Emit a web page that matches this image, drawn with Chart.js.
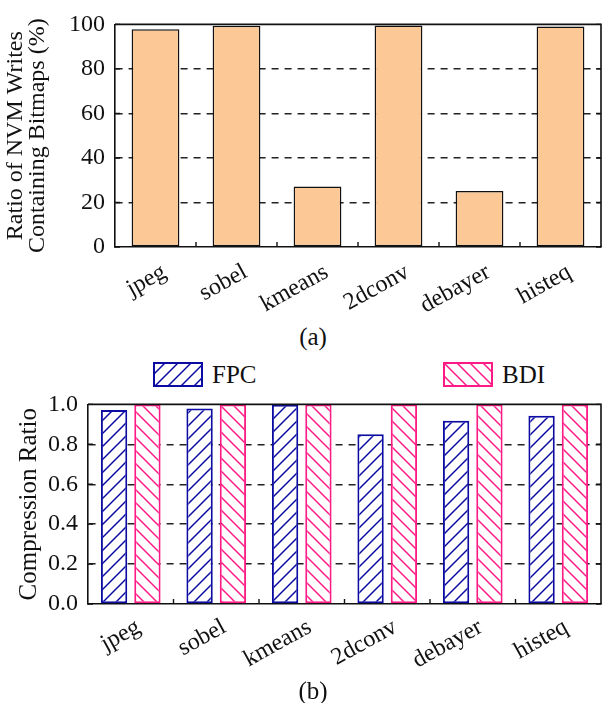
<!DOCTYPE html>
<html><head><meta charset="utf-8">
<script src="https://cdn.jsdelivr.net/npm/chart.js@4/dist/chart.umd.min.js"></script>
<style>
html,body{margin:0;padding:0;background:#fff;}
body{width:602px;height:703px;position:relative;overflow:hidden;font-family:"Liberation Serif",serif;color:#111;}
#wa{position:absolute;left:0;top:0;width:602px;height:320px;}
#wb{position:absolute;left:0;top:380px;width:602px;height:292px;}
.cap{position:absolute;left:0;width:626px;text-align:center;font-size:25px;line-height:26px;}
.lg{position:absolute;top:362px;height:25px;}
.lg canvas{position:absolute;left:0;top:0;}
.lg span{position:absolute;left:59px;top:-1px;font-size:25px;line-height:28px;white-space:nowrap;}
</style></head>
<body>
<div id="wa"><canvas id="ca"></canvas></div>
<div class="cap" style="top:324px">(a)</div>
<div class="lg" style="left:153px"><canvas id="lf" width="50" height="25"></canvas><span>FPC</span></div>
<div class="lg" style="left:443px"><canvas id="lb" width="50" height="25"></canvas><span>BDI</span></div>
<div id="wb"><canvas id="cb"></canvas></div>
<div class="cap" style="top:678px">(b)</div>
<script>
const categories = ['jpeg','sobel','kmeans','2dconv','debayer','histeq'];
const bitmapRatio = [97.8, 99.4, 27.2, 99.5, 25.2, 99.1];
const fpcRatio = [0.972, 0.980, 0.998, 0.850, 0.918, 0.943];
const bdiRatio = [1.0, 1.0, 1.0, 1.0, 1.0, 1.0];
const seriesNames = ['FPC', 'BDI'];
const ticksA = [0, 20, 40, 60, 80, 100];
const ticksB = [0, 0.2, 0.4, 0.6, 0.8, 1.0];

const FONT = '"Liberation Serif", serif';
const FPC_COLOR = '#0c0ca2';
const BDI_COLOR = '#ff1a86';

function hatch(color, dir){
  const s = 13;
  const c = document.createElement('canvas'); c.width = s; c.height = s;
  const g = c.getContext('2d');
  g.fillStyle = '#fff'; g.fillRect(0,0,s,s);
  g.strokeStyle = color; g.lineWidth = 1.5;
  g.beginPath();
  if (dir > 0) {
    g.moveTo(-1,s+1); g.lineTo(s+1,-1);
    g.moveTo(-2,2); g.lineTo(2,-2);
    g.moveTo(s-2,s+2); g.lineTo(s+2,s-2);
  } else {
    g.moveTo(-1,-1); g.lineTo(s+1,s+1);
    g.moveTo(s-2,-2); g.lineTo(s+2,2);
    g.moveTo(-2,s-2); g.lineTo(2,s+2);
  }
  g.stroke();
  return g.createPattern(c,'repeat');
}

function legendBox(id, color, dir){
  const c = document.getElementById(id); const g = c.getContext('2d');
  g.fillStyle = hatch(color, dir); g.fillRect(0,0,50,25);
  g.strokeStyle = color; g.lineWidth = 2; g.strokeRect(1,1,48,23);
}
legendBox('lf', FPC_COLOR, 1);
legendBox('lb', BDI_COLOR, -1);

const framePlugin = {
  id: 'frame',
  afterDatasetsDraw(chart){
    const {ctx, chartArea: a, scales: {x, y}} = chart;
    ctx.save();
    ctx.strokeStyle = '#111'; ctx.lineWidth = 1.6;
    ctx.beginPath();
    ctx.moveTo(a.left, a.top); ctx.lineTo(a.right, a.top); ctx.lineTo(a.right, a.bottom);
    ctx.stroke();
    ctx.lineWidth = 1.4;
    ctx.beginPath();
    y.ticks.forEach(t => {
      const py = y.getPixelForValue(t.value);
      ctx.moveTo(a.left, py); ctx.lineTo(a.left + 5, py);
      ctx.moveTo(a.right, py); ctx.lineTo(a.right - 5, py);
    });
    for (let i = 0; i < categories.length - 1; i++) {
      const px = (x.getPixelForValue(i) + x.getPixelForValue(i + 1)) / 2;
      ctx.moveTo(px, a.bottom); ctx.lineTo(px, a.bottom - 5);
    }
    ctx.stroke();
    ctx.restore();
  }
};

function yScale(ticksArr, width, title, titlePad, size, lh, fmt){
  return {
    min: ticksArr[0], max: ticksArr[ticksArr.length-1],
    afterBuildTicks: s => { s.ticks = ticksArr.map(v => ({value: v})); },
    afterFit: s => { s.width = width; },
    ticks: { color: '#111', font: {family: FONT, size: 24}, padding: 10, callback: fmt },
    grid: {
      drawTicks: false, lineWidth: 1.4,
      color: c => (c.tick && (c.tick.value === ticksArr[0] || c.tick.value === ticksArr[ticksArr.length-1])) ? 'rgba(0,0,0,0)' : '#222'
    },
    border: { display: true, color: '#111', width: 1.6, dash: [7, 6] },
    title: { display: true, text: title, color: '#111', font: {family: FONT, size: size, lineHeight: lh}, padding: {top: titlePad, bottom: 0} }
  };
}

function xScale(height, offset, pad){
  return {
    afterFit: s => { s.height = height; },
    ticks: { color: '#111', font: {family: FONT, size: 24}, minRotation: 29, maxRotation: 29, padding: pad, labelOffset: offset },
    grid: { display: false, drawTicks: false },
    border: { display: true, color: '#111', width: 1.6 }
  };
}

new Chart(document.getElementById('ca'), {
  type: 'bar',
  data: { labels: categories, datasets: [{
    data: bitmapRatio, backgroundColor: '#fbc896', borderColor: '#111', borderWidth: 1.5,
    borderSkipped: false, barPercentage: 0.59, categoryPercentage: 1.0
  }]},
  options: {
    responsive: true, maintainAspectRatio: false, animation: false,
    layout: { padding: { top: 19, right: 1, bottom: 0, left: 0 } },
    plugins: { legend: { display: false }, tooltip: { enabled: false } },
    scales: {
      x: xScale(73, 9, 11),
      y: yScale(ticksA, 115, ['Ratio of NVM Writes', 'Containing Bitmaps (%)'], 5, 24, 0.9, v => String(v))
    }
  },
  plugins: [framePlugin]
});

new Chart(document.getElementById('cb'), {
  type: 'bar',
  data: { labels: categories, datasets: [
    { label: seriesNames[0], data: fpcRatio, backgroundColor: hatch(FPC_COLOR, 1), borderColor: FPC_COLOR, borderWidth: 2,
      borderSkipped: false, barPercentage: 0.79, categoryPercentage: 0.78 },
    { label: seriesNames[1], data: bdiRatio, backgroundColor: hatch(BDI_COLOR, -1), borderColor: BDI_COLOR, borderWidth: 2,
      borderSkipped: false, barPercentage: 0.79, categoryPercentage: 0.78 }
  ]},
  options: {
    responsive: true, maintainAspectRatio: false, animation: false,
    layout: { padding: { top: 20, right: 1, bottom: 0, left: 0 } },
    plugins: { legend: { display: false }, tooltip: { enabled: false } },
    scales: {
      x: xScale(68, 8, 9),
      y: yScale(ticksB, 88, 'Compression Ratio', 17, 25, 1.0, v => Number(v).toFixed(1))
    }
  },
  plugins: [framePlugin]
});
</script>
</body></html>
